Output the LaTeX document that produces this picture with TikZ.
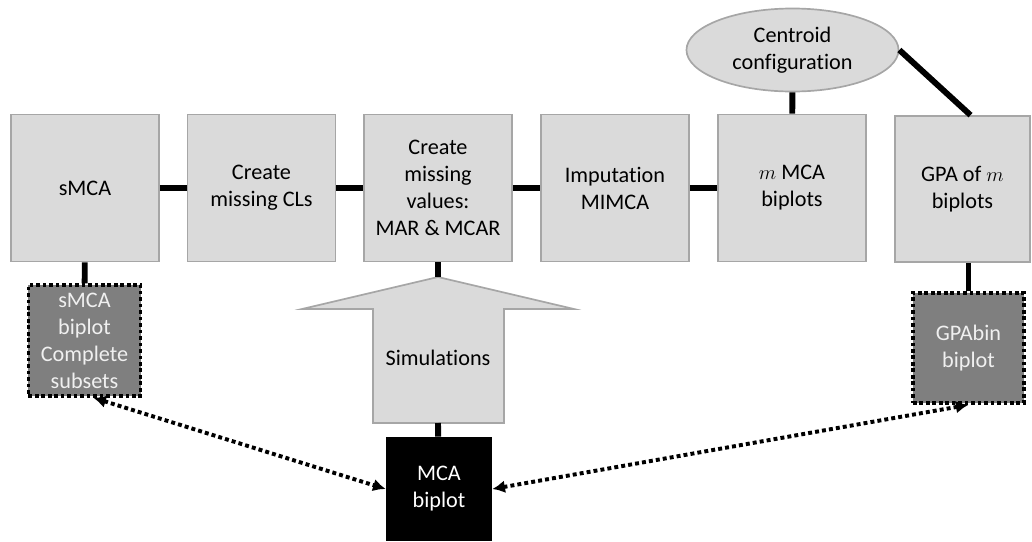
\documentclass[tikz,border=0pt]{standalone}
\usepackage{fontspec}
\setmainfont{Carlito}[Ligatures=NoCommon]
\usetikzlibrary{shapes.geometric,arrows.meta}

\definecolor{boxgray}{HTML}{DADADA}
\definecolor{edgegray}{HTML}{A6A6A6}
\definecolor{darkgray}{HTML}{7F7F7F}
\definecolor{paletext}{HTML}{F0F0F0}

\tikzset{
    stepbox/.style={draw=edgegray,fill=boxgray,line width=1.2pt,align=center,
        minimum width=3.7cm,minimum height=3.675cm,inner sep=2pt},
    plotbox/.style={draw=black,fill=darkgray,text=paletext,line width=2.6pt,
        dash pattern=on 2.6pt off 2pt,
        align=center,minimum width=2.8cm,minimum height=2.77cm,inner sep=1pt},
    link/.style={line width=4.2pt},
    dotlink/.style={line width=2.8pt,dash pattern=on 2.8pt off 2.2pt,
        {Latex[length=9pt,width=9pt]}-{Latex[length=9pt,width=9pt]}}
}

\begin{document}
\begin{tikzpicture}[x=0.025cm,y=-0.025cm,font=\fontsize{15.8}{19.2}\selectfont]
    \useasboundingbox (0,0) rectangle (1032,541);

    \node[stepbox] (smca) at (85,188) {sMCA};
    \node[stepbox] (cls) at (261.5,188) {Create\\missing CLs};
    \node[stepbox] (values) at (438,188) {Create\\missing\\values:\\MAR \& MCAR};
    \node[stepbox] (mimca) at (615,188) {Imputation\\MIMCA};
    \node[stepbox] (mbip) at (792,188) {$m$ MCA\\biplots};
    \node[stepbox,minimum width=3.375cm,minimum height=3.65cm] (gpa) at (962.5,189) {GPA of $m$\\biplots};

    \node[ellipse,draw=edgegray,fill=boxgray,line width=1.2pt,align=center,
        minimum width=5.3cm,minimum height=2.075cm,inner sep=0pt] (centroid) at (792.5,50) {Centroid\\configuration};

    \node[plotbox] (sbip) at (84.5,340.5) {sMCA\\biplot\\Complete\\subsets};
    \node[plotbox,minimum width=2.775cm,minimum height=2.75cm] (gbip) at (968.5,348) {GPAbin\\biplot};
    \node[fill=black,text=white,align=center,minimum width=2.65cm,minimum height=2.6cm] (mca) at (439,489) {MCA\\biplot};

    % simulations arrow
    \draw[draw=edgegray,fill=boxgray,line width=1.2pt]
        (438,277) -- (574,309) -- (504,309) -- (504,423) -- (373,423) -- (373,309) -- (302,309) -- cycle;
    \coordinate (simtip) at (438,277);
    \coordinate (simbase) at (438,423);
    \node (sim) at (438,358) {Simulations};

    \draw[link] (smca) -- (cls);
    \draw[link] (cls) -- (values);
    \draw[link] (values) -- (mimca);
    \draw[link] (mimca) -- (mbip);
    \draw[link] (centroid) -- (mbip);
    \draw[link] (centroid.east) -- ([xshift=0.2cm]gpa.north);
    \draw[link] (smca) -- (sbip);
    \draw[link] (gpa.south -| gbip.north) -- (gbip.north);
    \draw[link] (values) -- (simtip);
    \draw[link] (simbase) -- (mca);

    \draw[dotlink] ([xshift=0.22cm]sbip.south) -- (mca.west);
    \draw[dotlink] (mca.east) -- (gbip.south);
\end{tikzpicture}
\end{document}
